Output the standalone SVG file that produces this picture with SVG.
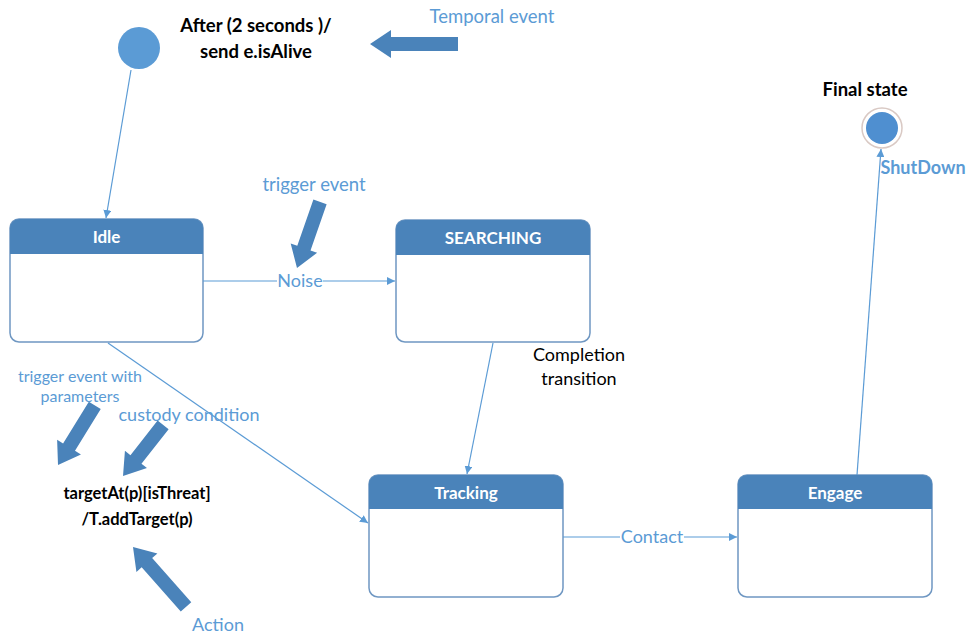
<svg xmlns="http://www.w3.org/2000/svg" width="968" height="635" viewBox="0 0 968 635">
  <style>
    .box { fill: #ffffff; stroke: #6f97c2; stroke-width: 1.5; }
    .head { fill: #4a83ba; }
    .title { font-family: Lato, "Open Sans", sans-serif; font-weight: bold; font-size: 17px; fill: #ffffff; text-anchor: middle; }
    .edge { stroke: #5b9bd5; stroke-width: 1.2; fill: none; marker-end: url(#tip); }
    .lbl { font-family: Lato, "Open Sans", sans-serif; font-size: 18px; fill: #5b9bd5; text-anchor: middle; }
    .note { font-family: Lato, "Open Sans", sans-serif; font-size: 18px; fill: #000000; text-anchor: middle; }
    .bold { font-weight: bold; }
    .fat { fill: #4a83ba; }
  </style>
  <defs>
    <marker id="tip" viewBox="0 0 10 10" refX="10" refY="5" markerWidth="8" markerHeight="8" markerUnits="userSpaceOnUse" orient="auto">
      <path d="M0,0 L10,5 L0,10 Z" fill="#5b9bd5"/>
    </marker>
  </defs>

  <rect width="968" height="635" fill="#ffffff"/>

  <!-- initial pseudo-state -->
  <g id="initial">
    <circle cx="139" cy="48" r="21" fill="#5b9bd5"/>
  </g>

  <!-- final state -->
  <g id="final">
    <circle cx="882" cy="128" r="20" fill="#ffffff" stroke="#d9c9c4" stroke-width="1.5"/>
    <circle cx="882" cy="128" r="16" fill="#4f8fd0"/>
    <text class="note bold" x="865" y="96" style="font-size:18.5px">Final state</text>
  </g>

  <!-- states -->
  <g id="idle">
    <rect class="box" x="10" y="219" width="193" height="123" rx="9"/>
    <path class="head" d="M10,254 V228 a9,9 0 0 1 9,-9 H194 a9,9 0 0 1 9,9 V254 Z"/>
    <text class="title" x="106.5" y="243">Idle</text>
  </g>
  <g id="searching">
    <rect class="box" x="396" y="220" width="194" height="122" rx="9"/>
    <path class="head" d="M396,255 V229 a9,9 0 0 1 9,-9 H581 a9,9 0 0 1 9,9 V255 Z"/>
    <text class="title" x="493" y="244">SEARCHING</text>
  </g>
  <g id="tracking">
    <rect class="box" x="369" y="475" width="194" height="122" rx="9"/>
    <path class="head" d="M369,509 V484 a9,9 0 0 1 9,-9 H554 a9,9 0 0 1 9,9 V509 Z"/>
    <text class="title" x="466" y="499">Tracking</text>
  </g>
  <g id="engage">
    <rect class="box" x="738" y="475" width="194" height="122" rx="9"/>
    <path class="head" d="M738,509 V484 a9,9 0 0 1 9,-9 H923 a9,9 0 0 1 9,9 V509 Z"/>
    <text class="title" x="835" y="499">Engage</text>
  </g>

  <!-- transitions -->
  <g id="connectors">
    <line class="edge" x1="131" y1="70" x2="106" y2="218"/>
    <line class="edge" x1="203" y1="281" x2="395" y2="281"/>
    <line class="edge" x1="108" y1="343" x2="368" y2="523"/>
    <line class="edge" x1="493" y1="343" x2="467" y2="474"/>
    <line class="edge" x1="563" y1="537" x2="737" y2="537"/>
    <line class="edge" x1="857" y1="475" x2="881" y2="149"/>
  </g>

  <!-- transition labels -->
  <g id="labels">
    <rect x="277" y="272" width="46" height="18" fill="#ffffff"/>
    <text class="lbl" x="300" y="287">Noise</text>
    <rect x="620" y="528" width="64" height="18" fill="#ffffff"/>
    <text class="lbl" x="652" y="543">Contact</text>
    <text class="lbl bold" x="923" y="174">ShutDown</text>
    <text class="note" x="579" y="361">Completion</text>
    <text class="note" x="579" y="385">transition</text>
  </g>

  <!-- annotations -->
  <g id="annotations">
    <text class="note bold" x="256" y="32" style="font-size:18.5px">After (2 seconds )/</text>
    <text class="note bold" x="256" y="58" style="font-size:18.5px">send e.isAlive</text>
    <text class="lbl" x="492" y="23" style="font-size:18.5px">Temporal event</text>
    <text class="lbl" x="314" y="191" style="font-size:18.5px">trigger event</text>
    <text class="lbl" x="80" y="382" style="font-size:16px">trigger event with</text>
    <text class="lbl" x="80" y="402" style="font-size:16px">parameters</text>
    <text class="lbl" x="189" y="421">custody condition</text>
    <text class="lbl" x="218" y="631">Action</text>
    <text class="note bold" x="137" y="499" style="font-size:16.5px">targetAt(p)[isThreat]</text>
    <text class="note bold" x="137" y="525" style="font-size:16.5px">/T.addTarget(p)</text>

    <path class="fat" transform="translate(370,44) rotate(180)" d="M0,0 L-21,-14 L-21,-7 L-88,-7 L-88,7 L-21,7 L-21,14 Z"/>
    <path class="fat" transform="translate(297,268) rotate(109.2)" d="M0,0 L-21,-14 L-21,-7 L-70,-7 L-70,7 L-21,7 L-21,14 Z"/>
    <path class="fat" transform="translate(58,465) rotate(121.7)" d="M0,0 L-21,-14 L-21,-7 L-70,-7 L-70,7 L-21,7 L-21,14 Z"/>
    <path class="fat" transform="translate(123,476) rotate(128.1)" d="M0,0 L-21,-14 L-21,-7 L-65,-7 L-65,7 L-21,7 L-21,14 Z"/>
    <path class="fat" transform="translate(133,547) rotate(-131.5)" d="M0,0 L-21,-14 L-21,-7 L-80,-7 L-80,7 L-21,7 L-21,14 Z"/>
  </g>
</svg>
